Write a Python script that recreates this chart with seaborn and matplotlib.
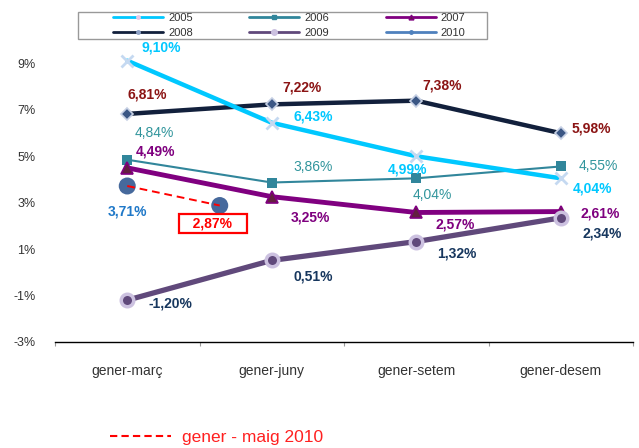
"""Evolució interanual acumulada 2005-2010 (gener-març ... gener-desem)."""

import matplotlib.pyplot as plt
import numpy as np
import seaborn as sns
from matplotlib.lines import Line2D
from matplotlib.patches import Rectangle

categories = ["gener-març", "gener-juny", "gener-setem", "gener-desem"]
years = ["2005", "2006", "2007", "2008", "2009", "2010"]

vals_2005 = [9.10, 6.43, 4.99, 4.04]
vals_2006 = [4.84, 3.86, 4.04, 4.55]
vals_2007 = [4.49, 3.25, 2.57, 2.61]
vals_2008 = [6.81, 7.22, 7.38, 5.98]
vals_2009 = [-1.20, 0.51, 1.32, 2.34]
vals_2010 = [3.71, 2.87]
pos_2010 = [0.0, 0.64]  # gener-març, gener-maig (between març and juny)

yticks = [-3, -1, 1, 3, 5, 7, 9]

sns.set_theme(style="white")
plt.rcParams["font.family"] = ["Liberation Sans", "DejaVu Sans"]

fig = plt.figure(figsize=(6.39, 4.48), dpi=100)
ax = fig.add_axes([55 / 639, 1 - 342 / 448, 578 / 639, 279 / 448])
x = np.arange(len(categories))

# series styles
styles = {
    "2005": dict(color="#00c8ff", lw=3.2, marker="x", ms=9, mew=2,
                 mfc="#c5d9f1", mec="#c5d9f1", z=4),
    "2006": dict(color="#31869b", lw=1.5, marker="s", ms=7, mew=0,
                 mfc="#31869b", mec="#31869b", z=3),
    "2007": dict(color="#800080", lw=3.5, marker="^", ms=9, mew=1.2,
                 mfc="#632040", mec="#800080", z=3),
    "2008": dict(color="#12203c", lw=3.2, marker="D", ms=6.5, mew=1.2,
                 mfc="#3b5785", mec="#c6d0e4", z=3),
    "2009": dict(color="#60497b", lw=3.8, marker="o", ms=9, mew=2.5,
                 mfc="#60497b", mec="#ccc1e0", z=3),
}
series = {"2005": vals_2005, "2006": vals_2006, "2007": vals_2007,
          "2008": vals_2008, "2009": vals_2009}

for yr, vals in series.items():
    st = styles[yr]
    sns.lineplot(x=x, y=vals, ax=ax, color=st["color"], linewidth=st["lw"],
                 marker=st["marker"], markersize=st["ms"], markeredgewidth=st["mew"],
                 markerfacecolor=st["mfc"], markeredgecolor=st["mec"],
                 zorder=st["z"], clip_on=False)

# 2010: big circles joined by red dashed line
sns.scatterplot(x=pos_2010, y=vals_2010, ax=ax, s=150, color="#46699c",
                edgecolor="none", zorder=5, clip_on=False)
sns.lineplot(x=pos_2010, y=vals_2010, ax=ax, color="#ff0000", linewidth=1.4,
             linestyle=(0, (4, 2.5)), zorder=6)

# value labels: (text, color, weight, offset in px)
def put_labels(xs, vals, texts, color, weight, offsets, **kw):
    for xi, v, t, (dx, dy) in zip(xs, vals, texts, offsets):
        ax.annotate(t, (xi, v), xytext=(dx * 0.72, -dy * 0.72),
                    textcoords="offset points", ha="center", va="center",
                    color=color, fontsize=10, fontweight=weight,
                    annotation_clip=False, zorder=10, **kw)

def pct(vals):
    return [f"{v:.2f}%".replace(".", ",") for v in vals]

put_labels(x, vals_2005, pct(vals_2005), "#00c8ff", "bold",
           [(34, -13), (41, -6), (-9, 13), (32, 10)])
put_labels(x, vals_2006, pct(vals_2006), "#31959c", "normal",
           [(27, -27), (41, -16), (16, 17), (38, 0)])
put_labels(x, vals_2007, pct(vals_2007), "#7f007f", "bold",
           [(28, -16), (39, 21), (39, 12), (39, 2)])
put_labels(x, vals_2008, pct(vals_2008), "#8b1414", "bold",
           [(20, -19), (30, -17), (26, -15), (31, -5)])
put_labels(x, vals_2009, pct(vals_2009), "#17375e", "bold",
           [(43, 3), (42, 16), (41, 12), (41, 16)])
put_labels(pos_2010[:1], vals_2010[:1], pct(vals_2010[:1]), "#1f78c8", "bold",
           [(0, 26)])
put_labels(pos_2010[1:], vals_2010[1:], ["   " + t + "   " for t in pct(vals_2010[1:])],
           "#ff0000", "bold", [(-7, 18)],
           bbox=dict(boxstyle="square,pad=0.2", fc="white", ec="#ff0000", lw=1.6))

# axes
ax.set_xlim(-0.5, len(categories) - 0.5)
ax.set_ylim(-3, 9)
ax.set_yticks(yticks)
ax.set_yticklabels([f"{t}%" for t in yticks], fontsize=9, color="#333333")
ax.set_xticks(x)
ax.set_xticklabels(categories, fontsize=10, color="#333333")
ax.set_xticks(np.arange(-0.5, len(categories)), minor=True)
ax.tick_params(axis="y", length=0, pad=14)
ax.tick_params(axis="x", which="major", length=0, pad=16)
ax.tick_params(axis="x", which="minor", length=3, width=0.8, color="#999999",
               bottom=True, direction="out")
for side in ["top", "right", "left"]:
    ax.spines[side].set_visible(False)
ax.spines["bottom"].set_color("black")
ax.spines["bottom"].set_linewidth(1)

# top legend (column-major order for 3 columns x 2 rows)
def handle(color, lw, marker=None, ms=4, mfc=None, mec=None):
    return Line2D([], [], color=color, lw=lw, marker=marker, ms=ms,
                  mfc=mfc or color, mec=mec or color)

handles = {
    "2005": handle("#00c8ff", 2, "o", 2.5, "#e6c8e6", "#e6c8e6"),
    "2006": handle("#31869b", 2, "s", 3.5),
    "2007": handle("#800080", 2, "^", 3.5, "#632040"),
    "2008": handle("#12203c", 2, "o", 2.5, "#8fa3c8", "#8fa3c8"),
    "2009": handle("#60497b", 2, "o", 4, "#ccc1e0", "#ccc1e0"),
    "2010": handle("#4f81bd", 2, "o", 2.5),
}
order = ["2005", "2008", "2006", "2009", "2007", "2010"]
leg = fig.legend([handles[k] for k in order], order, ncol=3, loc="upper left",
                 bbox_to_anchor=(113 / 639, 1 - 13 / 448), fontsize=8,
                 handlelength=4.5, handletextpad=0.45, columnspacing=5.1,
                 labelspacing=0.45, borderpad=0, borderaxespad=0,
                 frameon=False)
for t in leg.get_texts():
    t.set_color("#333333")
fig.patches.append(Rectangle((78 / 639, 1 - 39 / 448), 409 / 639, 27 / 448,
                             transform=fig.transFigure, fill=False,
                             ec="#999999", lw=1))

# bottom legend
leg2 = fig.legend([Line2D([], [], color="#ff0000", lw=1.5, ls=(0, (3.5, 2)))],
                  ["gener - maig 2010"], loc="center left",
                  bbox_to_anchor=(94 / 639, 1 - 437 / 448), fontsize=12.5,
                  handlelength=3.55, handletextpad=0.6, frameon=False)
for t in leg2.get_texts():
    t.set_color("#ff2020")

fig.savefig("out.png", dpi=100)
